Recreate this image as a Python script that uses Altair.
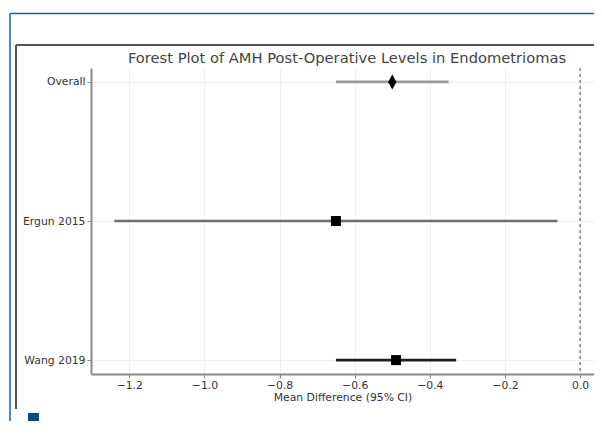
import altair as alt
import pandas as pd

# ---- data ----
studies = ["Overall", "Ergun 2015", "Wang 2019"]
mean_diff = [-0.50, -0.65, -0.49]
ci_low = [-0.65, -1.24, -0.65]
ci_high = [-0.35, -0.06, -0.33]
x_ticks = [-1.2, -1.0, -0.8, -0.6, -0.4, -0.2, 0.0]

title_text = "Forest Plot of AMH Post-Operative Levels in Endometriomas"
x_title = "Mean Difference (95% CI)"

df = pd.DataFrame({"study": studies, "md": mean_diff, "lo": ci_low, "hi": ci_high})

line_colors = ["#9a9a9a", "#6e6e6e", "#1e1e1e"]
diamond = "M0,-1L0.55,0L0,1L-0.55,0Z"
shapes = [diamond, "square", "square"]
sizes = [225, 100, 100]

W, H = 503, 306
font = "DejaVu Sans"

xscale = alt.Scale(domain=[-1.302, 0.037], nice=False, zero=False)
yenc = alt.Y(
    "study:N",
    sort=studies,
    scale=alt.Scale(type="point", domain=studies, padding=0.1),
    axis=alt.Axis(title=None, grid=True, labelPadding=2, tickSize=4),
)

base = alt.Chart(df)

bars = base.mark_rule(strokeWidth=2.6).encode(
    x=alt.X(
        "lo:Q",
        scale=xscale,
        axis=alt.Axis(
            values=x_ticks,
            title=x_title,
            labelExpr="replace(format(datum.value, '.1f'), '-', '\u2212')",
            grid=True,
            tickSize=4,
            labelPadding=1,
            titlePadding=2,
            titleFontWeight="normal",
        ),
    ),
    x2="hi:Q",
    y=yenc,
    color=alt.Color("study:N", scale=alt.Scale(domain=studies, range=line_colors), legend=None),
)

points = base.mark_point(filled=True, opacity=1, color="black").encode(
    x=alt.X("md:Q", scale=xscale),
    y=alt.Y("study:N", sort=studies),
    shape=alt.Shape("study:N", scale=alt.Scale(type="ordinal", domain=studies, range=shapes), legend=None),
    size=alt.Size("study:N", scale=alt.Scale(type="ordinal", domain=studies, range=sizes), legend=None),
)

zero_line = alt.Chart(pd.DataFrame({"v": [0.0]})).mark_rule(
    color="#666", strokeDash=[3, 3], strokeWidth=1.2
).encode(x=alt.X("v:Q", scale=xscale))

title_mark = alt.Chart(pd.DataFrame({"t": [title_text]})).mark_text(
    font=font, fontSize=14.7, color="#444", align="center", baseline="middle"
).encode(text="t:N", x=alt.value(256), y=alt.value(-9))

# ---- page decoration (document frame around the figure) ----
deco_df = pd.DataFrame({"a": [0]})
deco = alt.Chart(deco_df)
blue_top = deco.mark_rule(color="#2a5a96", strokeWidth=1.5).encode(
    x=alt.value(-81), x2=alt.value(W + 5), y=alt.value(-54.5))
blue_left = deco.mark_rule(color="#2a5a96", strokeWidth=1.5).encode(
    x=alt.value(-81), y=alt.value(-54.5), y2=alt.value(H + 60))
gray_top = deco.mark_rule(color="#555555", strokeWidth=2).encode(
    x=alt.value(-75), x2=alt.value(W + 5), y=alt.value(-23))
gray_left = deco.mark_rule(color="#555555", strokeWidth=2).encode(
    x=alt.value(-75), y=alt.value(-23), y2=alt.value(H + 35))
blue_sq = deco.mark_rect(color="#0b4a8a").encode(
    x=alt.value(-63), x2=alt.value(-52), y=alt.value(H + 39), y2=alt.value(H + 50))
blue_stem = deco.mark_rule(color="#0b4a8a", strokeWidth=2.5).encode(
    x=alt.value(-57.5), y=alt.value(H + 49), y2=alt.value(H + 60))

chart = alt.layer(
    bars, zero_line, points, title_mark,
    blue_top, blue_left, gray_top, gray_left, blue_sq, blue_stem
).properties(
    width=W,
    height=H,
    background="white",
    autosize=alt.AutoSizeParams(type="none"),
    padding={"left": 83, "top": 60, "right": 0, "bottom": 47},
).configure_view(stroke=None).configure_axis(
    labelFont=font,
    labelFontSize=10.8,
    labelColor="#333",
    titleFont=font,
    titleFontSize=10.8,
    titleFontWeight="normal",
    titleColor="#333",
    domainColor="#8a8a8a",
    domainWidth=2,
    tickColor="#8a8a8a",
    gridColor="#efefef",
    gridWidth=1,
)

chart.save("out.html", embed_options={"renderer": "svg", "actions": False})
